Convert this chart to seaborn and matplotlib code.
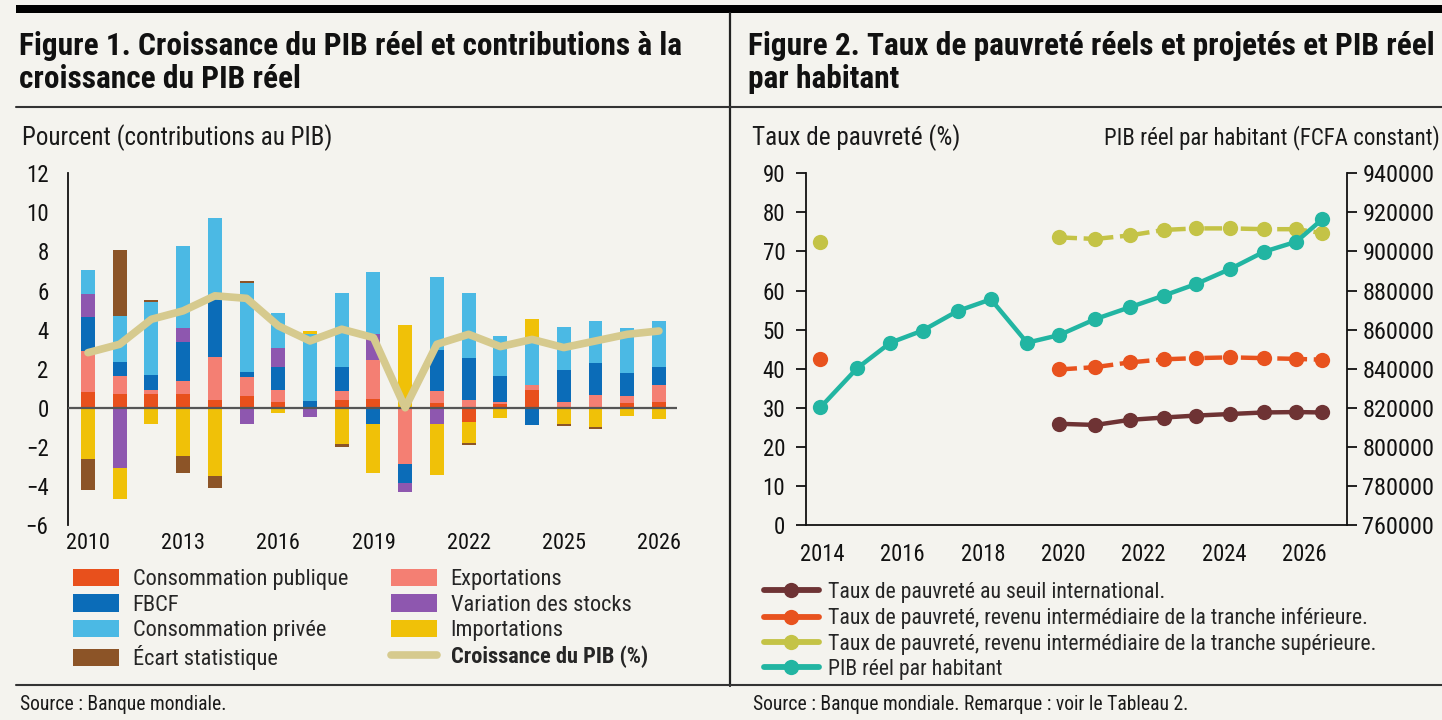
import numpy as np
import pandas as pd
import seaborn as sns
import matplotlib
matplotlib.use("Agg")
import matplotlib.pyplot as plt
import matplotlib.font_manager as fm
from matplotlib.lines import Line2D
from matplotlib.patches import Patch, Rectangle
from matplotlib.ticker import FuncFormatter

# ---------------- DATA : Figure 1 ----------------
bar_index = list(range(19))
tick_pos = [0, 3, 6, 9, 12, 15, 18]
tick_labels = ["2010", "2013", "2016", "2019", "2022", "2025", "2026"]

conso_pub = [0.80, 0.68, 0.72, 0.72, 0.41, 0.60, 0.32, 0.00, 0.41, 0.46, 0.00, 0.26, -0.73, 0.17, 0.89, 0.00, 0.00, 0.26, 0.32]
export    = [2.13, 0.94, 0.20, 0.63, 2.21, 0.97, 0.61, 0.00, 0.43, 1.99, -2.86, 0.60, 0.39, 0.12, 0.29, 0.29, 0.66, 0.32, 0.82]
fbcf      = [1.70, 0.72, 0.78, 2.01, 2.90, 0.26, 1.18, 0.34, 1.24, -0.82, -0.97, 2.11, 2.16, 1.33, -0.90, 1.65, 1.62, 1.21, 0.97]
stocks    = [1.19, -3.08, 0.00, 0.72, 0.00, -0.82, 0.94, -0.48, 0.00, 1.33, -0.48, -0.82, 0.00, 0.00, 0.00, 0.00, 0.00, 0.00, 0.00]
privee    = [1.24, 2.35, 3.70, 4.22, 4.19, 4.57, 1.79, 3.44, 3.80, 3.19, 0.00, 3.71, 3.30, 2.03, 2.44, 2.21, 2.18, 2.30, 2.35]
imports   = [-2.61, -1.57, -0.82, -2.49, -3.51, 0.00, -0.25, 0.17, -1.84, -2.50, 4.24, -2.60, -1.06, -0.51, 0.94, -0.85, -0.99, -0.43, -0.56]
ecart     = [-1.58, 3.36, 0.10, -0.83, -0.58, 0.10, 0.00, 0.00, -0.15, 0.00, 0.00, 0.00, -0.14, 0.00, 0.00, -0.08, -0.08, 0.00, 0.00]
gdp_growth = [2.82, 3.25, 4.53, 4.96, 5.73, 5.60, 4.19, 3.42, 4.02, 3.59, 0.00, 3.25, 3.76, 3.13, 3.50, 3.08, 3.42, 3.76, 3.93]

# ---------------- DATA : Figure 2 ----------------
years_x = [2013.96, 2014.87, 2015.70, 2016.50, 2017.37, 2018.20, 2019.10, 2019.90,
           2020.80, 2021.65, 2022.50, 2023.30, 2024.15, 2025.00, 2025.80, 2026.45]
pib_hab = [820200, 840200, 853300, 859500, 869500, 875500, 853300, 857200,
           865400, 871400, 877400, 883300, 891000, 899900, 905000, 916600]
nan = np.nan
pov_int = [nan, nan, nan, nan, nan, nan, nan, 25.9, 25.6, 26.9, 27.5, 28.0, 28.4, 28.8, 28.9, 28.8]
pov_low = [42.4, nan, nan, nan, nan, nan, nan, 39.8, 40.4, 41.6, 42.4, 42.7, 42.9, 42.7, 42.5, 42.3]
pov_up  = [72.3, nan, nan, nan, nan, nan, nan, 73.6, 73.2, 74.1, 75.5, 75.9, 75.9, 75.7, 75.7, 74.7]
fig2_xticks = [2014, 2016, 2018, 2020, 2022, 2024, 2026]
left_ticks = list(range(0, 91, 10))
right_ticks = list(range(760000, 940001, 20000))

# ---------------- STYLE ----------------
BG = "#F4F3EE"
C_PUB = "#E8501C"
C_FBCF = "#0B6CB8"
C_PRIV = "#4BB9E4"
C_ECART = "#8C5427"
C_EXP = "#F47F73"
C_STOCK = "#8E57AF"
C_IMP = "#F0C108"
C_GDP = "#D6CA8E"
C_PINT = "#6E3334"
C_PLOW = "#E8521E"
C_PUP = "#C4C346"
C_TEAL = "#22B5A2"

sns.set_theme(style="white")
names = {f.name for f in fm.fontManager.ttflist}
cond = None
for n in ["Roboto Condensed", "Liberation Sans Narrow", "Open Sans Condensed",
          "Noto Sans Condensed", "DejaVu Sans Condensed"]:
    if n in names:
        cond = n
        break
FONT = [cond if cond else "Liberation Sans", "DejaVu Sans"]
plt.rcParams["font.family"] = FONT
plt.rcParams["axes.facecolor"] = "none"

W, H = 1442, 720
fig = plt.figure(figsize=(W / 100, H / 100), dpi=100, facecolor=BG)

def fx(px):
    return px / W

def fy(py):
    return 1 - py / H

# ---------------- FRAME ----------------
fig.add_artist(Rectangle((fx(16), fy(13)), 1 - fx(16), 8 / H, transform=fig.transFigure,
                         color="black", lw=0))
fig.add_artist(Line2D([fx(729.5), fx(729.5)], [fy(13), fy(686)], transform=fig.transFigure,
                      color="#222222", lw=1.6))
fig.add_artist(Line2D([fx(16), 1], [fy(107), fy(107)], transform=fig.transFigure,
                      color="#333333", lw=1.5))
fig.add_artist(Line2D([fx(16), 1], [fy(685), fy(685)], transform=fig.transFigure,
                      color="#333333", lw=1.5))

TITLE_FS = 22.6
fig.text(fx(19), fy(55), "Figure 1. Croissance du PIB réel et contributions à la",
         fontsize=TITLE_FS, fontweight="bold", va="baseline", ha="left", color="#111111")
fig.text(fx(19), fy(88), "croissance du PIB réel",
         fontsize=TITLE_FS, fontweight="bold", va="baseline", ha="left", color="#111111")
fig.text(fx(748), fy(55), "Figure 2. Taux de pauvreté réels et projetés et PIB réel",
         fontsize=TITLE_FS, fontweight="bold", va="baseline", ha="left", color="#111111")
fig.text(fx(748), fy(88), "par habitant",
         fontsize=TITLE_FS, fontweight="bold", va="baseline", ha="left", color="#111111")

fig.text(fx(22), fy(138), "Pourcent (contributions au PIB)", fontsize=18, va="center", ha="left", color="#1a1a1a")
fig.text(fx(752), fy(138), "Taux de pauvreté (%)", fontsize=18.2, va="center", ha="left", color="#1a1a1a")
fig.text(fx(1440), fy(138), "PIB réel par habitant (FCFA constant)", fontsize=16.5, va="center", ha="right", color="#1a1a1a")

SRC_FS = 14.1
fig.text(fx(20), fy(704), "Source : Banque mondiale.", fontsize=SRC_FS, va="center", ha="left", color="#1a1a1a")
fig.text(fx(753), fy(704), "Source : Banque mondiale. Remarque : voir le Tableau 2.", fontsize=SRC_FS,
         va="center", ha="left", color="#1a1a1a")

# ---------------- FIGURE 1 ----------------
ax1 = fig.add_axes([fx(68), fy(525), fx(677) - fx(68), (525 - 173.3) / H])
x = np.array(bar_index)
BW = 0.44
pos_order = [(conso_pub, C_PUB), (export, C_EXP), (fbcf, C_FBCF), (stocks, C_STOCK),
             (privee, C_PRIV), (imports, C_IMP), (ecart, C_ECART)]
neg_order = [(conso_pub, C_PUB), (export, C_EXP), (fbcf, C_FBCF), (stocks, C_STOCK),
             (imports, C_IMP), (ecart, C_ECART)]
pb = np.zeros(len(x))
for vals, col in pos_order:
    v = np.array(vals)
    p = np.where(v > 0, v, 0.0)
    ax1.bar(x, p, bottom=pb, width=BW, color=col, linewidth=0, zorder=2)
    pb += p
nb = np.zeros(len(x))
for vals, col in neg_order:
    v = np.array(vals)
    q = np.where(v < 0, v, 0.0)
    ax1.bar(x, q, bottom=nb, width=BW, color=col, linewidth=0, zorder=2)
    nb += q
ax1.axhline(0, color="#555555", lw=1.6, zorder=3)
sns.lineplot(x=x, y=gdp_growth, ax=ax1, color=C_GDP, lw=5.5, zorder=4,
             solid_capstyle="round", solid_joinstyle="round")
ax1.set_xlim(-0.63, 18.57)
ax1.set_ylim(-6, 12)
ax1.set_yticks(list(range(-6, 13, 2)))
ax1.set_xticks(tick_pos)
ax1.set_xticklabels(tick_labels)
for s in ["top", "right", "bottom"]:
    ax1.spines[s].set_visible(False)
ax1.spines["left"].set_color("#111111")
ax1.spines["left"].set_linewidth(1.3)
ax1.tick_params(axis="y", direction="out", length=7, width=1.3, pad=7, labelsize=16.5, colors="#111111")
ax1.tick_params(axis="x", length=0, pad=6, labelsize=16, colors="#111111")
ax1.set_xlabel("")
ax1.set_ylabel("")

LEG_FS = 16.1
h1 = [Patch(color=C_PUB, lw=0), Patch(color=C_FBCF, lw=0), Patch(color=C_PRIV, lw=0), Patch(color=C_ECART, lw=0)]
l1 = ["Consommation publique", "FBCF", "Consommation privée", "Écart statistique"]
h2 = [Patch(color=C_EXP, lw=0), Patch(color=C_STOCK, lw=0), Patch(color=C_IMP, lw=0),
      Line2D([0], [0], color=C_GDP, lw=5.5, solid_capstyle="round")]
l2 = ["Exportations", "Variation des stocks", "Importations", "Croissance du PIB (%)"]
legkw = dict(frameon=False, fontsize=LEG_FS, handlelength=2.05, handleheight=0.82,
             handletextpad=0.62, labelspacing=0.18, borderpad=0, borderaxespad=0, loc="upper left")
fig.legend(h1, l1, bbox_to_anchor=(fx(73), fy(569)), **legkw)
lg2 = fig.legend(h2, l2, bbox_to_anchor=(fx(391), fy(569)), **legkw)
lg2.get_texts()[3].set_fontweight("bold")

# ---------------- FIGURE 2 ----------------
ax = fig.add_axes([fx(806), fy(525), fx(1347) - fx(806), (525 - 173.3) / H])
ax2 = ax.twinx()
MS = 11
LW = 3.2
ax.plot(years_x, pov_int, color=C_PINT, lw=LW, marker="o", ms=MS, mew=0, zorder=3)
ax.plot(years_x, pov_low, color=C_PLOW, lw=LW, marker="o", ms=MS, mew=0, zorder=3,
        linestyle=(0, (4, 1.5, 1.2, 1.5)))
ax.plot(years_x, pov_up, color=C_PUP, lw=LW, marker="o", ms=MS, mew=0, zorder=3,
        linestyle=(0, (4, 1.5, 1.2, 1.5)))
sns.lineplot(x=years_x, y=pib_hab, ax=ax2, color=C_TEAL, lw=LW, marker="o", markersize=MS,
             markeredgewidth=0, zorder=4)
ax.set_xlim(2013.6, 2027.06)
ax.set_ylim(0, 90)
ax2.set_ylim(760000, 940000)
ax.set_yticks(left_ticks)
ax2.set_yticks(right_ticks)
ax2.yaxis.set_major_formatter(FuncFormatter(lambda v, _: f"{int(round(v))}"))
ax.set_xticks(fig2_xticks)
ax.set_xticks(list(range(2014, 2028)), minor=True)
for a in (ax, ax2):
    a.spines["top"].set_visible(False)
    for s in ["left", "right", "bottom"]:
        a.spines[s].set_color("#111111")
        a.spines[s].set_linewidth(1.3)
ax.spines["right"].set_visible(False)
ax2.spines["left"].set_visible(False)
ax2.spines["bottom"].set_visible(False)
ax.tick_params(axis="y", direction="out", length=7, width=1.3, pad=8, labelsize=16.5, colors="#111111")
ax2.tick_params(axis="y", direction="out", length=7, width=1.3, pad=4, labelsize=17.5, colors="#111111")
ax.tick_params(axis="x", which="both", direction="out", length=7, width=1.3, pad=6, labelsize=16.3, colors="#111111")
ax2.set_ylabel("")
ax.set_ylabel("")
ax2.set_xlabel("")

h3 = [Line2D([0], [0], color=c, lw=LW + 1, marker="o", ms=MS, mew=0)
      for c in (C_PINT, C_PLOW, C_PUP, C_TEAL)]
l3 = ["Taux de pauvreté au seuil international.",
      "Taux de pauvreté, revenu intermédiaire de la tranche inférieure.",
      "Taux de pauvreté, revenu intermédiaire de la tranche supérieure.",
      "PIB réel par habitant"]
fig.legend(h3, l3, frameon=False, fontsize=15.7, handlelength=2.5, handletextpad=0.42,
           labelspacing=0.2, borderpad=0, borderaxespad=0, loc="upper left",
           bbox_to_anchor=(fx(764), fy(582)))

fig.savefig("out.png", dpi=100, facecolor=BG)
